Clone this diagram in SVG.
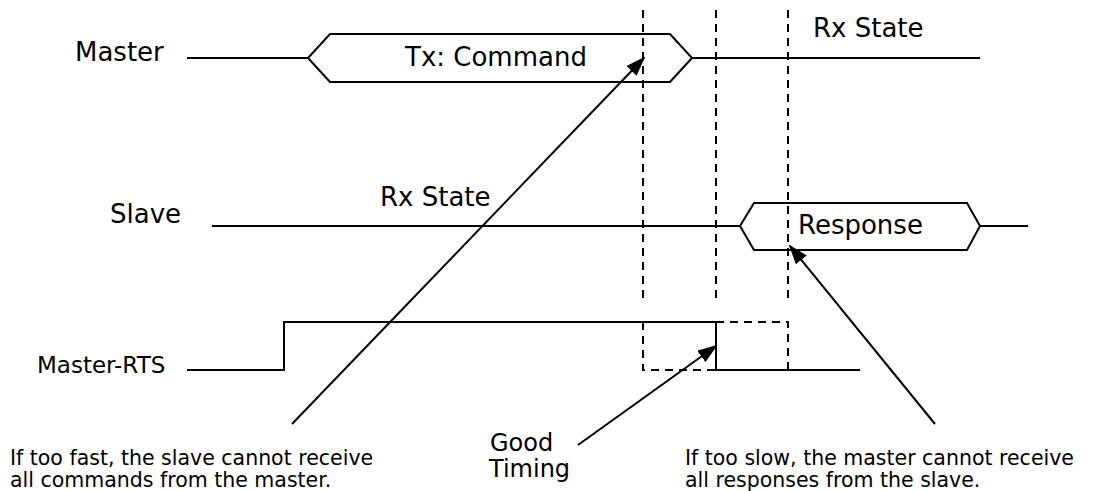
<svg xmlns="http://www.w3.org/2000/svg" width="1095" height="491" viewBox="0 0 1095 491">
  <style>
    .sig { fill: none; stroke: #000; stroke-width: 2; stroke-linejoin: miter; }
    .guide { fill: none; stroke: #000; stroke-width: 2; stroke-dasharray: 8 6; }
    .arrow { fill: none; stroke: #000; stroke-width: 2; marker-end: url(#head); }
    .lbl { font-family: "DejaVu Sans", Verdana, sans-serif; font-size: 26px; fill: #000; }
    .note { font-family: "DejaVu Sans", Verdana, sans-serif; font-size: 20.5px; fill: #000; }
  </style>
  <defs>
    <marker id="head" viewBox="0 0 20 14" refX="18" refY="7" markerWidth="20" markerHeight="14" markerUnits="userSpaceOnUse" orient="auto">
      <path d="M0,0 L20,7 L0,14 z" fill="#000"/>
    </marker>
  </defs>
  <rect width="1095" height="491" fill="#fff"/>

  <!-- Master waveform -->
  <g id="master">
    <text class="lbl" x="75" y="61">Master</text>
    <path class="sig" d="M187,58 H308 M308,58 L330,34 H670 L692,58 L670,82 H330 Z M692,58 H980"/>
    <text class="lbl" x="405" y="66">Tx: Command</text>
    <text class="lbl" x="813" y="37">Rx State</text>
  </g>

  <!-- Slave waveform -->
  <g id="slave">
    <text class="lbl" x="110" y="223">Slave</text>
    <path class="sig" d="M212,226 H740 M740,226 L754,203 H967 L980,226 L967,250 H754 Z M980,226 H1028"/>
    <text class="lbl" x="380" y="206">Rx State</text>
    <text class="lbl" x="798" y="234">Response</text>
  </g>

  <!-- Master-RTS waveform -->
  <g id="master-rts">
    <text class="lbl" style="font-size:23px" x="37" y="373">Master-RTS</text>
    <path class="sig" d="M187,370 H284 V322 H716 V370 H860"/>
    <path class="guide" d="M643,322 V370 H716 M716,322 H788 V370"/>
  </g>

  <!-- Notes -->
  <g id="note-fast">
    <text class="note" x="10" y="465">If too fast, the slave cannot receive</text>
    <text class="note" x="10" y="487">all commands from the master.</text>
  </g>
  <g id="note-good">
    <text class="lbl" style="font-size:24px" x="490" y="451">Good</text>
    <text class="lbl" style="font-size:24px" x="489" y="477">Timing</text>
  </g>
  <g id="note-slow">
    <text class="note" x="685" y="465">If too slow, the master cannot receive</text>
    <text class="note" x="685" y="487">all responses from the slave.</text>
  </g>

  <!-- Timing guides and pointers -->
  <g id="connectors">
    <path class="guide" d="M643,10 V298 M716,10 V298 M788,10 V298"/>
    <path class="arrow" d="M292,424 L644,58"/>
    <path class="arrow" d="M578,445 L716,346"/>
    <path class="arrow" d="M935,424 L790,246"/>
  </g>
</svg>
